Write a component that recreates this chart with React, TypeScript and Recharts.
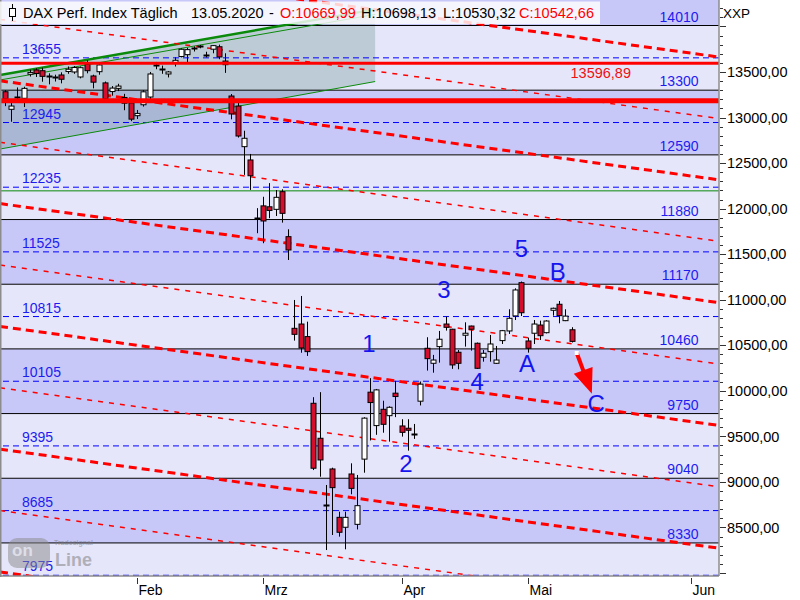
import React from 'react';
import { ComposedChart, Bar, Area, Scatter, XAxis, YAxis, ReferenceLine, ReferenceArea } from 'recharts';

const FONT = '"Liberation Sans", Arial, sans-serif';
const RED = '#ff0000';
const BLUE = '#1c1cf0';
const WAVE_BLUE = '#1414ee';
const CANDLE_RED = '#d40e2c';
const GREEN = '#0a8a0a';

// ---- candle data (trading days, Jan 3 2020 .. May 13 2020) ----
const dates = [
  '03.01', '06.01', '07.01', '08.01', '09.01', '10.01', '13.01', '14.01', '15.01', '16.01', '17.01', '20.01', '21.01', '22.01', '23.01', '24.01', '27.01', '28.01', '29.01', '30.01', '31.01',
  '03.02', '04.02', '05.02', '06.02', '07.02', '10.02', '11.02', '12.02', '13.02', '14.02', '17.02', '18.02', '19.02', '20.02', '21.02', '24.02', '25.02', '26.02', '27.02', '28.02',
  '02.03', '03.03', '04.03', '05.03', '06.03', '09.03', '10.03', '11.03', '12.03', '13.03', '16.03', '17.03', '18.03', '19.03', '20.03', '23.03', '24.03', '25.03', '26.03', '27.03', '30.03', '31.03',
  '01.04', '02.04', '03.04', '06.04', '07.04', '08.04', '09.04', '14.04', '15.04', '16.04', '17.04', '20.04', '21.04', '22.04', '23.04', '24.04', '27.04', '28.04', '29.04', '30.04',
  '04.05', '05.05', '06.05', '07.05', '08.05', '11.05', '12.05', '13.05',
];
const opens = [
  13283, 13090, 13222, 13211, 13475, 13522, 13514, 13445, 13440, 13467, 13505, 13500, 13445, 13584, 13456, 13503, 13380, 13285, 13320, 13220, 13160,
  13020, 13140, 13225, 13560, 13530, 13478, 13602, 13670, 13690, 13760, 13770, 13690, 13750, 13777, 13620, 13236, 13126, 12680, 12534, 11900,
  12030, 12020, 11992, 12186, 11692, 10686, 10733, 10595, 9863, 9479, 8750, 9142, 8611, 8502, 9087, 8534, 9250, 9985, 9618, 9797, 9727, 9974,
  9614, 9589, 9530, 9886, 10467, 10302, 10485, 10733, 10676, 10423, 10610, 10711, 10522, 10368, 10430, 10302, 10551, 10657, 10822, 11187,
  10547, 10632, 10722, 10638, 10884, 10950, 10770, 10669.99,
];
const highs = [
  13300, 13160, 13330, 13338, 13525, 13540, 13547, 13485, 13470, 13496, 13560, 13565, 13560, 13631, 13470, 13600, 13395, 13345, 13370, 13260, 13170,
  13083, 13300, 13500, 13610, 13570, 13510, 13660, 13760, 13765, 13780, 13795, 13722, 13795, 13800, 13705, 13258, 13160, 12855, 12600, 12005,
  12130, 12280, 12204, 12212, 11773, 10997, 11041, 10759, 9930, 9985, 8966, 9156, 8673, 8673, 9204, 9076, 9710, 10139, 10020, 9891, 9830, 10109,
  9688, 9688, 9636, 10102, 10588, 10394, 10657, 10814, 10680, 10448, 10752, 10715, 10530, 10448, 10613, 10492, 10668, 10895, 11125, 11200,
  10584, 10777, 10770, 10775, 10913, 10986, 10895, 10698.13,
];
const lows = [
  13125, 12954, 13190, 13115, 13450, 13445, 13393, 13364, 13395, 13375, 13480, 13480, 13430, 13485, 13320, 13470, 13170, 13240, 13290, 13080, 12960,
  12984, 13120, 13200, 13530, 13480, 13440, 13560, 13660, 13590, 13725, 13760, 13660, 13705, 13640, 13490, 12980, 12780, 12370, 12205, 11730,
  11620, 11895, 11919, 11846, 11436, 10551, 10418, 10383, 9130, 9057, 8252, 8417, 8399, 8260, 8864, 8478, 9101, 9455, 9517, 9540, 9442, 9711,
  9497, 9343, 9472, 9839, 10222, 10199, 10309, 10661, 10241, 10236, 10485, 10441, 10240, 10320, 10320, 10295, 10514, 10624, 10777, 10821,
  10419, 10514, 10558, 10630, 10825, 10741, 10765, 10530.32,
];
const closes = [
  13205, 13126, 13228, 13320, 13495, 13483, 13452, 13456, 13432, 13420, 13530, 13549, 13547, 13514, 13388, 13577, 13205, 13323, 13345, 13157, 12982,
  13045, 13282, 13478, 13575, 13514, 13500, 13628, 13749, 13745, 13744, 13784, 13681, 13789, 13665, 13580, 13039, 12797, 12772, 12361, 11890,
  11864, 11980, 12124, 11948, 11546, 10620, 10470, 10430, 9150, 9241, 8742, 8937, 8447, 8611, 8929, 8739, 9700, 9871, 10010, 9632, 9819, 9937,
  9544, 9567, 9525, 10073, 10353, 10338, 10566, 10697, 10284, 10302, 10632, 10676, 10247, 10412, 10514, 10338, 10660, 10796, 11107, 10857,
  10467, 10733, 10605, 10766, 10906, 10825, 10820, 10542.66,
];
const FIRST_INDEX = -21; // Jan 3 relative to Feb 3 (= 0)

// ---- axes ----
const X_MIN = -21.75;
const X_MAX = 92.38;
const Y_MIN = 7967;
const Y_MAX = 14290;
const monthTicks = [0, 20, 42, 62, 88];
const monthNames = ['Feb', 'Mrz', 'Apr', 'Mai', 'Jun'];
const yLabelValues = [8500, 9000, 9500, 10000, 10500, 11000, 11500, 12000, 12500, 13000, 13500];
const yTicks: number[] = [];
for (let v = 8000; v <= 14200; v += 100) yTicks.push(v);

// ---- levels ----
const solidLevels = [14010, 13300, 12590, 11880, 11170, 10460, 9750, 9040, 8330];
const dashedLevels = [13655, 12945, 12235, 11525, 10815, 10105, 9395, 8685, 7975];
const darkBands = [[14010, Y_MAX], [12590, 13300], [11170, 11880], [9750, 10460], [8330, 9040]];
const lightBands = [[13300, 14010], [11880, 12590], [10460, 11170], [9040, 9750], [Y_MIN, 8330]];
const supportLevel = 13596.89;
const supportLevel2 = 13183;
const greenLevel = 12195;

// ---- red dashed trend channel lines (value at left edge / right edge) ----
const trendStart = [14751, 14077, 13403, 12729, 12055, 11381, 10707, 10033, 9359, 8685, 8011];
const trendEnd = [13664, 12990, 12316, 11642, 10968, 10294, 9620, 8946, 8272, 7598, 6924];
const trendThick = [true, false, true, false, true, false, true, false, true, false, true];

// ---- green rising channel ----
const channelX = [-21.75, 37.8];
const channelUpper = [13467, 14187];
const channelUpperInner = [13412, 14132];
const channelLower = [12654, 13395];

// ---- wave labels ----
const waveText = ['1', '2', '3', '4', '5', 'A', 'B', 'C'];
const waveX = [36.8, 42.7, 48.7, 54.0, 61.0, 61.9, 66.8, 72.9];
const waveY = [10525, 9207, 11118, 10108, 11567, 10305, 11315, 9865];

// ---- arrow ----
const arrowFrom = { x: 69.8, y: 10415 };
const arrowTo = { x: 72.2, y: 9967 };

const fmt = (v: number) => v.toFixed(2).replace('.', ',');

const Candle = (props: any) => {
  const { x, y, width, height, payload } = props;
  if (x == null || y == null || !payload) return null;
  const { o, h, l, c } = payload;
  const top = Math.min(y, y + height);
  const bot = Math.max(y, y + height);
  const span = h - l || 1;
  const toY = (v: number) => top + ((h - v) / span) * (bot - top);
  const cx = Math.round(x + width / 2) + 0.5;
  const yo = toY(o);
  const yc = toY(c);
  const bTop = Math.min(yo, yc);
  const bH = Math.abs(yc - yo);
  const up = c >= o;
  return (
    <g>
      <line x1={cx} x2={cx} y1={top} y2={bot} stroke="#000" strokeWidth={1} />
      {bH < 1.5 ? (
        <line x1={cx - 3} x2={cx + 3} y1={Math.round(bTop) + 0.5} y2={Math.round(bTop) + 0.5} stroke="#000" strokeWidth={2} />
      ) : (
        <rect x={cx - 2.5} y={bTop} width={5} height={bH} fill={up ? '#ffffff' : CANDLE_RED} stroke="#000" strokeWidth={1} />
      )}
    </g>
  );
};

const XTick = (props: any) => {
  const { x, y, payload } = props;
  const idx = monthTicks.indexOf(payload.value);
  const px = Math.round(x) + 0.5;
  return (
    <g>
      <line x1={px} x2={px} y1={y + 2} y2={y + 8} stroke="#333" strokeWidth={1} />
      <text x={px + 1} y={y + 19} fontFamily={FONT} fontSize={14} fill="#000">{monthNames[idx]}</text>
    </g>
  );
};

const YTick = (props: any) => {
  const { x, y, payload } = props;
  const v = payload.value;
  const major = v % 500 === 0;
  const labelled = yLabelValues.includes(v);
  const py = Math.round(y) + 0.5;
  return (
    <g>
      <line x1={x + 1} x2={x + (major ? 7 : 4)} y1={py} y2={py} stroke="#333" strokeWidth={1} />
      {labelled && (
        <text x={x + 8} y={y + 5.2} fontFamily={FONT} fontSize={14.5} fill="#000">{`${v},00`}</text>
      )}
    </g>
  );
};

const leftLabel = (text: string) => (props: any) => {
  const vb = props.viewBox || {};
  return (
    <text x={(vb.x ?? 0) + 22} y={(vb.y ?? 0) - 4} fontFamily={FONT} fontSize={14} fill={BLUE}>{text}</text>
  );
};
const rightLabel = (text: string) => (props: any) => {
  const vb = props.viewBox || {};
  return (
    <text x={(vb.x ?? 0) + (vb.width ?? 719) - 20.5} y={(vb.y ?? 0) - 4} textAnchor="end" fontFamily={FONT} fontSize={14} fill={BLUE}>{text}</text>
  );
};
const supportLabel = (props: any) => {
  const vb = props.viewBox || {};
  return (
    <text x={(vb.x ?? 0) + (vb.width ?? 719) - 88} y={(vb.y ?? 0) + 15} textAnchor="end" fontFamily={FONT} fontSize={14.5} fill="#ee1111">{fmt(supportLevel)}</text>
  );
};

const WaveShape = (props: any) => {
  const { cx, cy, payload } = props;
  if (cx == null || cy == null) return null;
  return (
    <text x={cx} y={cy + 8.6} textAnchor="middle" fontFamily={FONT} fontSize={24} fill={WAVE_BLUE}>{payload.t}</text>
  );
};

const ArrowShape = (props: any) => {
  const { x1, y1, x2, y2 } = props;
  if ([x1, y1, x2, y2].some((v) => v == null || isNaN(v))) return null;
  const dx = x2 - x1;
  const dy = y2 - y1;
  const len = Math.hypot(dx, dy) || 1;
  const ux = dx / len;
  const uy = dy / len;
  const hl = 25;
  const hw = 10;
  const bx = x2 - ux * hl;
  const by = y2 - uy * hl;
  const px = -uy;
  const py = ux;
  return (
    <g>
      <line x1={x1} y1={y1} x2={bx + ux * 3} y2={by + uy * 3} stroke={RED} strokeWidth={4} />
      <polygon points={`${x2},${y2} ${bx + px * hw},${by + py * hw} ${bx - px * hw},${by - py * hw}`} fill={RED} />
      <rect x={x1 - 2} y={y1 - 2} width={4} height={4} fill="#ffffff" />
    </g>
  );
};

export default function App() {
  const rows = dates.map((d, k) => ({
    i: FIRST_INDEX + k,
    date: d,
    o: opens[k],
    h: highs[k],
    l: lows[k],
    c: closes[k],
  }));
  const last = rows[rows.length - 1];
  const channelData = channelX.map((x, k) => ({ i: x, band: [channelLower[k], channelUpper[k]] }));
  const waveData = waveText.map((t, k) => ({ i: waveX[k], p: waveY[k], t }));

  return (
    <div style={{ position: 'absolute', left: 0, top: 0, width: 800, height: 600, background: '#ffffff' }}>
      <ComposedChart width={800} height={600} data={rows} margin={{ top: 0, right: 0, bottom: 0, left: 0 }}>
        <XAxis
          dataKey="i"
          type="number"
          domain={[X_MIN, X_MAX]}
          allowDataOverflow
          ticks={monthTicks}
          interval={0}
          tick={(p: any) => <XTick {...p} />}
          tickLine={false}
          tickSize={0}
          tickMargin={0}
          axisLine={{ stroke: '#8c8c8c', strokeWidth: 1.5 }}
          height={24}
        />
        <YAxis
          orientation="right"
          type="number"
          domain={[Y_MIN, Y_MAX]}
          allowDataOverflow
          ticks={yTicks}
          interval={0}
          tick={(p: any) => <YTick {...p} />}
          tickLine={false}
          tickSize={0}
          tickMargin={0}
          axisLine={{ stroke: '#8c8c8c', strokeWidth: 1.5 }}
          width={81}
        />

        {darkBands.map((b, k) => (
          <ReferenceArea key={`d${k}`} y1={b[0]} y2={b[1]} fill="#c8c8f8" fillOpacity={1} stroke="none" ifOverflow="hidden" zIndex={10} />
        ))}
        {lightBands.map((b, k) => (
          <ReferenceArea key={`l${k}`} y1={b[0]} y2={b[1]} fill="#e6e6fa" fillOpacity={1} stroke="none" ifOverflow="hidden" zIndex={10} />
        ))}

        <Area
          data={channelData}
          dataKey="band"
          type="linear"
          stroke="none"
          fill="#6a9490"
          fillOpacity={0.33}
          isAnimationActive={false}
          zIndex={20}
        />

        {dashedLevels.map((v) => (
          <ReferenceLine key={`bl${v}`} y={v} stroke="#0000ff" strokeWidth={1} strokeDasharray="6 4" ifOverflow="hidden" label={leftLabel(String(v))} zIndex={30} />
        ))}
        {solidLevels.map((v) => (
          <ReferenceLine key={`sl${v}`} y={v} stroke="#000000" strokeWidth={1} ifOverflow="hidden" label={rightLabel(String(v))} zIndex={30} />
        ))}
        <ReferenceLine y={greenLevel} stroke={GREEN} strokeWidth={1} ifOverflow="hidden" zIndex={30} />

        <ReferenceLine
          segment={[{ x: channelX[0], y: channelUpper[0] }, { x: channelX[1], y: channelUpper[1] }]}
          stroke={GREEN}
          strokeWidth={2.5}
          ifOverflow="hidden"
          zIndex={40}
        />
        <ReferenceLine
          segment={[{ x: channelX[0], y: channelUpperInner[0] }, { x: channelX[1], y: channelUpperInner[1] }]}
          stroke={GREEN}
          strokeWidth={1}
          ifOverflow="hidden"
          zIndex={40}
        />
        <ReferenceLine
          segment={[{ x: channelX[0], y: channelLower[0] }, { x: channelX[1], y: channelLower[1] }]}
          stroke={GREEN}
          strokeWidth={1}
          ifOverflow="hidden"
          zIndex={40}
        />

        {trendStart.map((v, k) => (
          <ReferenceLine
            key={`tr${k}`}
            segment={[{ x: X_MIN, y: v }, { x: X_MAX, y: trendEnd[k] }]}
            stroke={RED}
            strokeWidth={trendThick[k] ? 3 : 1.5}
            strokeDasharray={trendThick[k] ? '8 5' : '5 6'}
            ifOverflow="hidden"
            zIndex={50}
          />
        ))}

        <Bar
          dataKey={(d: any) => [d.l, d.h]}
          barSize={5}
          shape={(p: any) => <Candle {...p} />}
          isAnimationActive={false}
          zIndex={60}
        />

        <ReferenceLine y={supportLevel} stroke={RED} strokeWidth={3} ifOverflow="hidden" label={supportLabel} zIndex={70} />
        <ReferenceLine y={supportLevel2} stroke={RED} strokeWidth={5} ifOverflow="hidden" zIndex={70} />

        <Scatter data={waveData} dataKey="p" shape={(p: any) => <WaveShape {...p} />} isAnimationActive={false} zIndex={80} />

        <ReferenceLine
          segment={[arrowFrom, arrowTo]}
          stroke={RED}
          strokeWidth={4}
          shape={(p: any) => <ArrowShape {...p} />}
          zIndex={90}
        />
      </ComposedChart>

      <svg width={800} height={600} style={{ position: 'absolute', left: 0, top: 0, pointerEvents: 'none' }}>
        <line x1={0.75} x2={0.75} y1={0} y2={577} stroke="#8c8c8c" strokeWidth={1.5} />
        <rect x={0} y={1.5} width={600} height={22.5} fill="#ffffff" fillOpacity={0.82} />
        <line x1={12.5} x2={12.5} y1={4} y2={21} stroke="#000" strokeWidth={1} />
        <rect x={9.5} y={8.5} width={6} height={8} fill="#ffffff" stroke="#000" strokeWidth={1} />
        <g fontFamily={FONT} fontSize={14.5}>
          <text x={23} y={18} fill="#000">DAX Perf. Index Täglich</text>
          <text x={191} y={18} fill="#000">13.05.2020</text>
          <text x={269} y={18} fill="#000">-</text>
          <text x={280} y={18} fill={RED}>{`O:${fmt(last.o)}`}</text>
          <text x={361} y={18} fill="#000">{`H:${fmt(last.h)}`}</text>
          <text x={443} y={18} fill="#000">{`L:${fmt(last.l)}`}</text>
          <text x={519} y={18} fill={RED}>{`C:${fmt(last.c)}`}</text>
        </g>
        <text x={723} y={18} fontFamily={FONT} fontSize={13.5} fill="#000">XXP</text>
        <g opacity={0.5}>
          <rect x={8} y={538} width={42} height={30} rx={9} fill="#8a8a8a" />
          <text x={12} y={556} fontFamily={FONT} fontSize={17} fontWeight="bold" fill="#d8d8d8">on</text>
          <text x={55} y={566} fontFamily={FONT} fontSize={18} fontWeight="bold" fill="#7a7a7a">Line</text>
          <text x={54} y={545} fontFamily={FONT} fontSize={7} fontWeight="bold" fill="#7a7a7a">Tradesignal</text>
        </g>
      </svg>
    </div>
  );
}
